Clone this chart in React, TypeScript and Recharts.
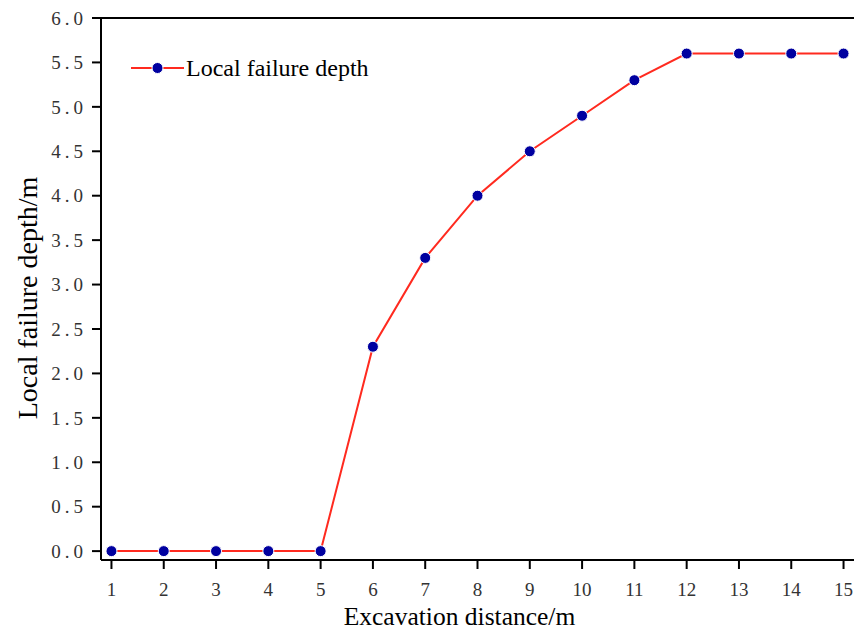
import React from "react";
import { LineChart, Line, XAxis, YAxis, ReferenceLine } from "recharts";

const distances = [1, 2, 3, 4, 5, 6, 7, 8, 9, 10, 11, 12, 13, 14, 15];
const failureDepth = [0, 0, 0, 0, 0, 2.3, 3.3, 4.0, 4.5, 4.9, 5.3, 5.6, 5.6, 5.6, 5.6];
const xTicks = [1, 2, 3, 4, 5, 6, 7, 8, 9, 10, 11, 12, 13, 14, 15];
const yTicks = [0, 0.5, 1, 1.5, 2, 2.5, 3, 3.5, 4, 4.5, 5, 5.5, 6];
const seriesName = "Local failure depth";

const data = distances.map((d, i) => ({ x: d, depth: failureDepth[i] }));

const FONT = "'Liberation Serif', 'DejaVu Serif', serif";
const LINE_COLOR = "#FF2A1F";
const DOT_COLOR = "#0000A0";

const LegendBox = () => (
  <svg
    width={300}
    height={30}
    style={{ position: "absolute", left: 131, top: 53, overflow: "visible" }}
  >
    <line x1={0} y1={15} x2={53} y2={15} stroke={LINE_COLOR} strokeWidth={2} />
    <circle cx={26.5} cy={15} r={5.5} fill={DOT_COLOR} stroke="#fff" strokeWidth={1} />
    <text x={55} y={23} fontFamily={FONT} fontSize={24} fill="#000">
      {seriesName}
    </text>
  </svg>
);

export default function App() {
  return (
    <div style={{ position: "absolute", left: 0, top: 0, width: 855, height: 632, background: "#fff" }}>
      <LineChart
        width={855}
        height={632}
        data={data}
        margin={{ top: 18, right: 1, bottom: 0, left: 0 }}
      >
        <XAxis
          dataKey="x"
          type="number"
          domain={[0.8, 15.2]}
          ticks={xTicks}
          allowDataOverflow
          height={72}
          stroke="#000"
          strokeWidth={2}
          tickSize={9}
          tickLine={{ stroke: "#000", strokeWidth: 2 }}
          tick={{ fill: "#333", fontSize: 19, fontFamily: FONT }}
          tickMargin={14}
          label={{
            value: "Excavation distance/m",
            position: "bottom",
            offset: -25,
            dx: -18,
            style: { fontFamily: FONT, fontSize: 25.5, fill: "#000" },
          }}
        />
        <YAxis
          type="number"
          domain={[-0.1, 6]}
          ticks={yTicks}
          allowDataOverflow
          width={101}
          stroke="#000"
          strokeWidth={2}
          tickSize={9}
          tickLine={{ stroke: "#000", strokeWidth: 2 }}
          tick={{ fill: "#333", fontSize: 19, fontFamily: FONT, letterSpacing: 4 }}
          tickMargin={5}
          tickFormatter={(v: number) => v.toFixed(1)}
          label={{
            value: "Local failure depth/m",
            angle: -90,
            position: "insideLeft",
            offset: 27,
            dy: 9,
            style: { fontFamily: FONT, fontSize: 28, fill: "#000", textAnchor: "middle" },
          }}
        />
        <ReferenceLine y={6} stroke="#000" strokeWidth={2} ifOverflow="visible" />
        <Line
          type="linear"
          dataKey="depth"
          name={seriesName}
          stroke={LINE_COLOR}
          strokeWidth={2}
          dot={{ r: 5.5, fill: DOT_COLOR, stroke: "#fff", strokeWidth: 1 }}
          activeDot={false}
          isAnimationActive={false}
        />
      </LineChart>
      <LegendBox />
    </div>
  );
}
